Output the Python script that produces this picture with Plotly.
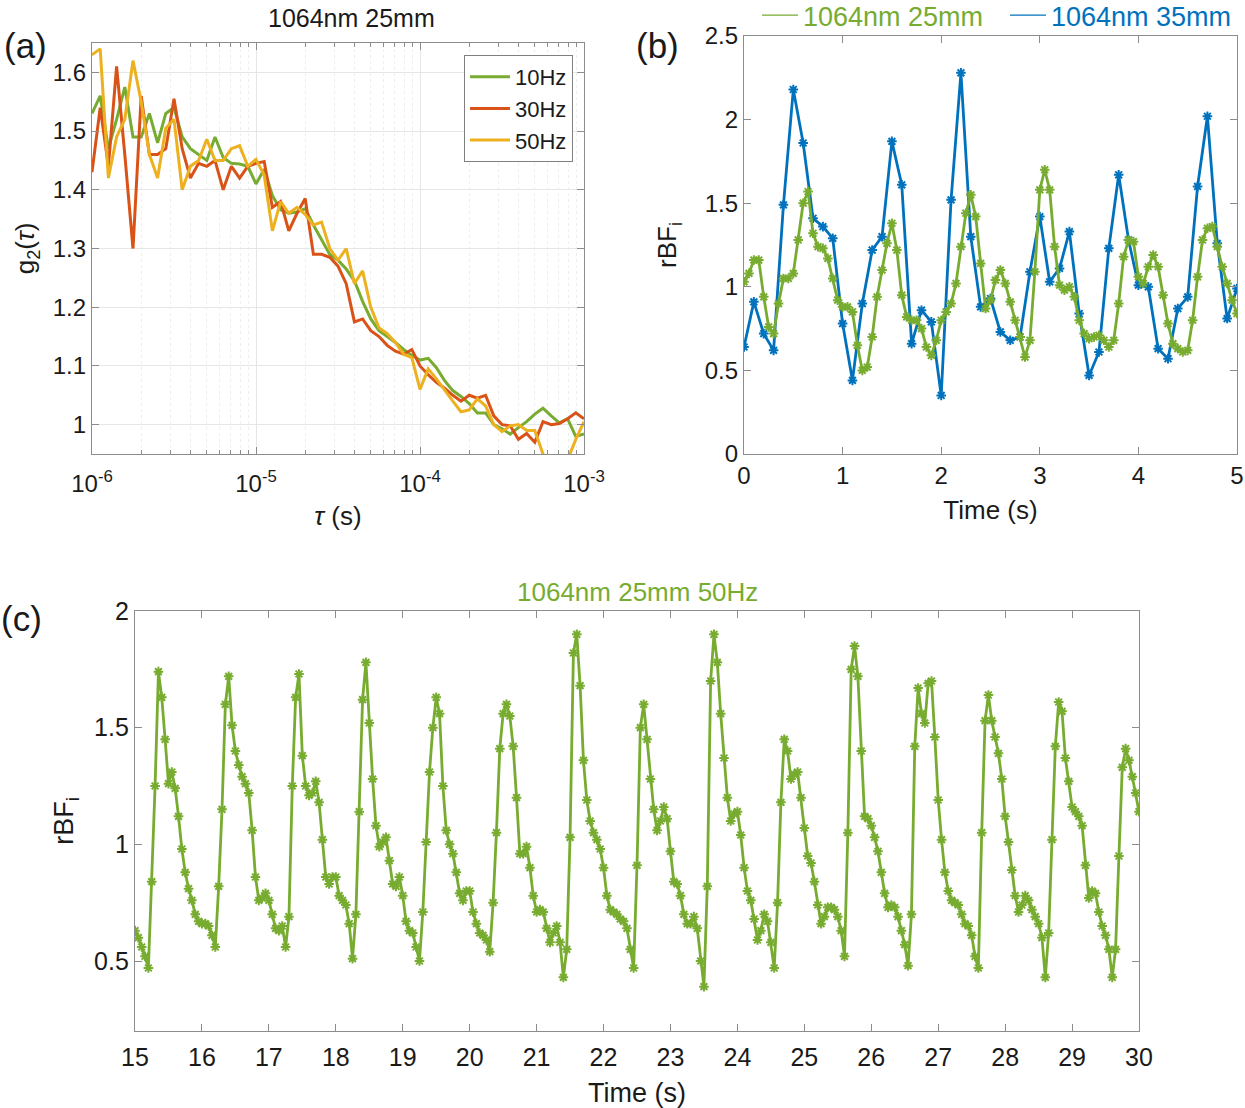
import plotly.graph_objects as go

# ---------------- data ----------------
# (a) g2(tau) curves, tau on log grid 1e-6 .. 1e-3 (20 points / decade)
tau_exp = [-6 + 0.05 * i for i in range(61)]
tau = [10 ** e for e in tau_exp]
g2_10hz = [1.53, 1.56, 1.47, 1.52, 1.575, 1.49, 1.49, 1.53, 1.48, 1.53,
           1.54, 1.49, 1.47, 1.46, 1.45, 1.49, 1.455, 1.445, 1.444, 1.44,
           1.41, 1.435, 1.39, 1.366, 1.36, 1.362, 1.368, 1.34, 1.315, 1.29,
           1.28, 1.265, 1.245, 1.21, 1.18, 1.16, 1.15, 1.14, 1.128, 1.118,
           1.11, 1.113, 1.097, 1.075, 1.058, 1.048, 1.036, 1.02, 1.02, 1.00,
           0.993, 0.984, 0.995, 1.005, 1.018, 1.028, 1.015, 1.003, 1.01, 0.98,
           0.984]
g2_30hz = [1.43, 1.54, 1.44, 1.61, 1.46, 1.30, 1.56, 1.46, 1.46, 1.47,
           1.555, 1.47, 1.42, 1.445, 1.44, 1.45, 1.40, 1.44, 1.42, 1.44,
           1.445, 1.448, 1.37, 1.38, 1.33, 1.36, 1.385, 1.29, 1.29, 1.285,
           1.27, 1.24, 1.175, 1.18, 1.16, 1.15, 1.135, 1.125, 1.12, 1.128,
           1.10, 1.085, 1.072, 1.062, 1.05, 1.04, 1.05, 1.045, 1.05, 1.015,
           1.00, 0.998, 0.975, 0.985, 0.97, 1.005, 1.0, 1.002, 1.01, 1.02,
           1.01]
g2_50hz = [1.63, 1.64, 1.42, 1.49, 1.52, 1.62, 1.55, 1.46, 1.42, 1.505,
           1.52, 1.40, 1.44, 1.45, 1.486, 1.45, 1.45, 1.47, 1.475, 1.44,
           1.452, 1.425, 1.33, 1.38, 1.36, 1.37, 1.358, 1.34, 1.345, 1.30,
           1.28, 1.30, 1.24, 1.262, 1.20, 1.165, 1.155, 1.14, 1.12, 1.114,
           1.06, 1.095, 1.078, 1.058, 1.04, 1.022, 1.025, 1.044, 1.032, 1.00,
           0.988, 0.998, 1.0, 0.99, 0.99, 0.95, 0.92, 0.91, 0.94, 0.975,
           1.005]

# (b) rBFi, 0..5 s
b_time_35 = [round(0.1 * i, 2) for i in range(51)]
rbf_35mm = [0.64, 0.91, 0.72, 0.62, 1.49, 2.18, 1.86, 1.41, 1.36, 1.29,
            0.78, 0.44, 0.90, 1.22, 1.30, 1.87, 1.61, 0.66, 0.86, 0.79,
            0.35, 1.52, 2.28, 1.30, 0.88, 0.93, 0.73, 0.68, 0.70, 1.09,
            1.42, 1.03, 1.11, 1.33, 0.84, 0.47, 0.61, 1.23, 1.67, 1.28,
            1.01, 1.00, 0.63, 0.57, 0.87, 0.94, 1.60, 2.02, 1.26, 0.81,
            0.99]
b_time_25 = [round(0.05 * i, 2) for i in range(101)]
rbf_25mm = [1.03, 1.08, 1.16, 1.16, 0.94, 0.76, 0.72, 0.90, 1.05, 1.05,
            1.08, 1.28, 1.50, 1.57, 1.32, 1.24, 1.23, 1.17, 1.05, 0.92,
            0.88, 0.88, 0.85, 0.65, 0.50, 0.52, 0.70, 0.94, 1.10, 1.26,
            1.38, 1.22, 0.95, 0.82, 0.80, 0.80, 0.75, 0.64, 0.59, 0.68,
            0.80, 0.85, 0.90, 1.02, 1.24, 1.44, 1.55, 1.42, 1.14, 0.87,
            0.92, 1.04, 1.10, 1.02, 0.91, 0.80, 0.70, 0.58, 0.68, 1.09,
            1.58, 1.70, 1.58, 1.24, 1.01, 0.98, 1.00, 0.94, 0.80, 0.72,
            0.69, 0.70, 0.71, 0.68, 0.64, 0.68, 0.90, 1.18, 1.28, 1.27,
            1.06, 1.02, 1.12, 1.19, 1.12, 0.95, 0.78, 0.66, 0.63, 0.61,
            0.62, 0.80, 1.06, 1.28, 1.35, 1.36, 1.24, 1.12, 1.02, 0.92,
            0.84]

# (c) rBFi 1064nm 25mm 50Hz, 15..30 s
c_time = [round(15 + 0.05 * i, 2) for i in range(301)]
rbf_50hz = (
    [0.63, 0.60, 0.56, 0.52, 0.47, 0.84, 1.25, 1.74, 1.63, 1.45, 1.26, 1.31, 1.24, 1.12, 0.98, 0.88, 0.81, 0.76, 0.70, 0.67]
    + [0.66, 0.66, 0.65, 0.61, 0.56, 0.82, 1.15, 1.60, 1.72, 1.51, 1.40, 1.34, 1.29, 1.26, 1.22, 1.06, 0.86, 0.76, 0.77, 0.79]
    + [0.76, 0.70, 0.64, 0.63, 0.65, 0.56, 0.69, 1.25, 1.63, 1.73, 1.38, 1.25, 1.21, 1.22, 1.27, 1.18, 1.02, 0.86, 0.83, 0.86]
    + [0.86, 0.78, 0.76, 0.74, 0.66, 0.51, 0.70, 1.14, 1.62, 1.78, 1.52, 1.28, 1.08, 0.99, 1.01, 1.03, 0.93, 0.83, 0.82, 0.86]
    + [0.78, 0.67, 0.63, 0.62, 0.56, 0.50, 0.71, 1.01, 1.31, 1.50, 1.63, 1.56, 1.25, 1.06, 1.00, 0.96, 0.88, 0.79, 0.76, 0.80]
    + [0.80, 0.71, 0.66, 0.62, 0.61, 0.59, 0.54, 0.75, 1.05, 1.41, 1.56, 1.60, 1.55, 1.42, 1.20, 0.96, 0.96, 0.99, 0.90, 0.78]
    + [0.71, 0.72, 0.71, 0.64, 0.58, 0.62, 0.65, 0.58, 0.43, 0.55, 1.03, 1.82, 1.90, 1.68, 1.36, 1.19, 1.10, 1.05, 1.02, 0.98]
    + [0.90, 0.78, 0.72, 0.71, 0.70, 0.68, 0.67, 0.64, 0.55, 0.47, 0.91, 1.50, 1.60, 1.45, 1.28, 1.15, 1.06, 1.10, 1.16, 1.11]
    + [0.97, 0.84, 0.83, 0.78, 0.70, 0.66, 0.66, 0.69, 0.64, 0.50, 0.39, 0.82, 1.70, 1.90, 1.78, 1.56, 1.37, 1.20, 1.10, 1.13]
    + [1.14, 1.04, 0.90, 0.80, 0.76, 0.68, 0.59, 0.63, 0.70, 0.67, 0.58, 0.47, 0.75, 1.18, 1.45, 1.40, 1.28, 1.30, 1.31, 1.20]
    + [1.07, 0.95, 0.92, 0.84, 0.74, 0.66, 0.69, 0.73, 0.73, 0.72, 0.69, 0.63, 0.52, 1.05, 1.75, 1.85, 1.72, 1.40, 1.12, 1.11]
    + [1.08, 1.03, 0.97, 0.88, 0.79, 0.73, 0.74, 0.73, 0.69, 0.63, 0.57, 0.48, 0.70, 1.42, 1.67, 1.56, 1.52, 1.69, 1.70, 1.46]
    + [1.19, 1.02, 0.88, 0.80, 0.76, 0.75, 0.74, 0.70, 0.66, 0.65, 0.61, 0.52, 0.47, 1.05, 1.53, 1.64, 1.53, 1.46, 1.39, 1.28]
    + [1.12, 1.01, 0.89, 0.78, 0.71, 0.74, 0.78, 0.76, 0.72, 0.69, 0.66, 0.60, 0.43, 0.62, 1.02, 1.42, 1.61, 1.57, 1.37, 1.27]
    + [1.16, 1.14, 1.12, 1.08, 0.91, 0.77, 0.80, 0.79, 0.71, 0.65, 0.61, 0.55, 0.43, 0.55, 0.95, 1.33, 1.41, 1.36, 1.29, 1.22]
    + [1.14]
)

a_xticks = [1e-6, 1e-5, 1e-4, 1e-3]
a_xticktext = ["10<sup>-6</sup>", "10<sup>-5</sup>", "10<sup>-4</sup>", "10<sup>-3</sup>"]
a_yticks = [1.0, 1.1, 1.2, 1.3, 1.4, 1.5, 1.6]
a_yticktext = ["1", "1.1", "1.2", "1.3", "1.4", "1.5", "1.6"]

# ---------------- style ----------------
GREEN = "#77AC30"
RED = "#D95319"
YELLOW = "#EDB120"
BLUE = "#0072BD"
FONT = "Liberation Sans"
TXT = "#1a1a1a"
W, H = 1245, 1108


def px_x(p):
    return p / W


def px_y(p):
    return 1 - p / H


fig = go.Figure()

# (a)
for name, vals, col in [("10Hz", g2_10hz, GREEN), ("30Hz", g2_30hz, RED), ("50Hz", g2_50hz, YELLOW)]:
    fig.add_trace(go.Scatter(x=tau, y=vals, mode="lines", name=name,
                             line=dict(color=col, width=3),
                             xaxis="x", yaxis="y", legend="legend"))

MK = dict(symbol="asterisk-open", size=8)

# (b)
fig.add_trace(go.Scatter(x=b_time_35, y=rbf_35mm, mode="lines+markers",
                         line=dict(color=BLUE, width=2.8),
                         marker=dict(MK, color=BLUE, line=dict(width=2, color=BLUE)),
                         showlegend=False, xaxis="x2", yaxis="y2"))
fig.add_trace(go.Scatter(x=b_time_25, y=rbf_25mm, mode="lines+markers",
                         line=dict(color=GREEN, width=2.8),
                         marker=dict(MK, color=GREEN, line=dict(width=2, color=GREEN)),
                         showlegend=False, xaxis="x2", yaxis="y2"))
# legend entries for (b)
fig.add_trace(go.Scatter(x=[None], y=[None], mode="lines", name="1064nm 25mm",
                         line=dict(color=GREEN, width=1.2),
                         xaxis="x2", yaxis="y2", legend="legend2"))
fig.add_trace(go.Scatter(x=[None], y=[None], mode="lines", name="1064nm 35mm",
                         line=dict(color=BLUE, width=1.2),
                         xaxis="x2", yaxis="y2", legend="legend3"))

# (c)
fig.add_trace(go.Scatter(x=c_time, y=rbf_50hz, mode="lines+markers",
                         line=dict(color=GREEN, width=2.8),
                         marker=dict(MK, color=GREEN, line=dict(width=2, color=GREEN)),
                         showlegend=False, xaxis="x3", yaxis="y3"))

AX_COL = "#8c8c8c"
TICKFONT = dict(family=FONT, size=24, color=TXT)
TITLEFONT = dict(family=FONT, size=26, color=TXT)


def ax(**kw):
    d = dict(showline=True, linecolor=AX_COL, linewidth=1.3, mirror="ticks",
             ticks="inside", ticklen=7, tickcolor=AX_COL, tickwidth=1.2,
             tickfont=TICKFONT, zeroline=False, showgrid=False, automargin=False)
    d.update(kw)
    return d


minor_vals = [m * 10 ** e for e in (-6, -5, -4) for m in range(2, 10)]


def label(text, x, y, size, color=TXT):
    return dict(text=text, x=px_x(x), y=px_y(y), xref="paper", yref="paper",
                xanchor="center", yanchor="middle", showarrow=False,
                font=dict(family=FONT, size=size, color=color))


fig.update_layout(
    width=W, height=H,
    margin=dict(l=0, r=0, t=0, b=0, autoexpand=False),
    paper_bgcolor="white", plot_bgcolor="white",
    font=dict(family=FONT, color=TXT),
    xaxis=ax(type="log", domain=[px_x(92), px_x(584)], range=[-6, -3],
             tickvals=a_xticks, ticktext=a_xticktext, ticklabelstandoff=8,
             showgrid=True, gridcolor="#e6e6e6",
             minor=dict(tickvals=minor_vals, ticks="inside", ticklen=4,
                        tickcolor=AX_COL, showgrid=True, gridcolor="#eeeeee",
                        griddash="dot"),
             title=dict(text="<i>τ</i> (s)", font=TITLEFONT, standoff=10),
             anchor="y"),
    yaxis=ax(domain=[px_y(454), px_y(43)], range=[0.95, 1.65],
             tickvals=a_yticks, ticktext=a_yticktext,
             showgrid=True, gridcolor="#e6e6e6",
             title=dict(text="g<sub>2</sub>(<i>τ</i>)", font=TITLEFONT, standoff=10),
             anchor="x"),
    xaxis2=ax(domain=[px_x(744), px_x(1237)], range=[0, 5], dtick=1,
              title=dict(text="Time (s)", font=TITLEFONT, standoff=12),
              anchor="y2"),
    yaxis2=ax(domain=[px_y(454), px_y(36)], range=[0, 2.5], dtick=0.5,
              title=dict(text="rBF<sub>i</sub>", font=TITLEFONT, standoff=20),
              anchor="x2"),
    xaxis3=ax(domain=[px_x(135), px_x(1139)], range=[15, 30], dtick=1,
              ticklabelstandoff=4,
              tickfont=dict(family=FONT, size=25, color=TXT),
              title=dict(text="Time (s)", font=dict(family=FONT, size=27, color=TXT), standoff=12),
              anchor="y3"),
    yaxis3=ax(domain=[px_y(1031), px_y(611)], range=[0.2, 2.0],
              tickvals=[0.5, 1, 1.5, 2], ticktext=["0.5", "1", "1.5", "2"],
              tickfont=dict(family=FONT, size=25, color=TXT),
              title=dict(text="rBF<sub>i</sub>", font=dict(family=FONT, size=27, color=TXT), standoff=12),
              anchor="x3"),
    legend=dict(x=px_x(573), xanchor="right", y=px_y(55), yanchor="top",
                bordercolor="#7f7f7f", borderwidth=1, bgcolor="white",
                font=dict(family=FONT, size=22, color=TXT),
                tracegroupgap=0, itemwidth=40),
    legend2=dict(x=px_x(757), xanchor="left", y=px_y(-9), yanchor="top",
                 orientation="h", bgcolor="rgba(0,0,0,0)",
                 font=dict(family=FONT, size=27, color=GREEN), itemwidth=36),
    legend3=dict(x=px_x(1005), xanchor="left", y=px_y(-9), yanchor="top",
                 orientation="h", bgcolor="rgba(0,0,0,0)",
                 font=dict(family=FONT, size=27, color=BLUE), itemwidth=36),
    annotations=[
        label("(a)", 25, 45, 35),
        label("(b)", 657, 45, 35),
        label("(c)", 22, 618, 35),
        label("1064nm 25mm", 351, 18, 25),
        label("1064nm 25mm 50Hz", 637, 592, 26, GREEN),
    ],
)

fig.write_html("out.html", config={"displayModeBar": False},
               post_script="document.body.style.margin='0px';")
